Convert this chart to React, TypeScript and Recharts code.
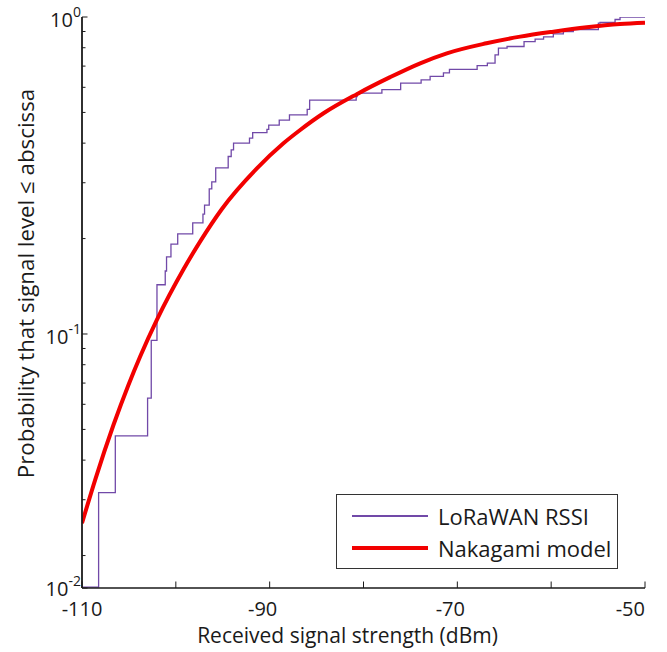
import React from "react";
import { LineChart, Line, XAxis, YAxis, Legend, Label } from "recharts";

// measured RSSI, empirical CDF (jump points)
const rssiDbm = [
  -110, -108.23, -106.45, -103.01, -102.62, -102.01, -101.13, -100.99, -100.52, -99.8,
  -98.2, -97.11, -96.94, -96.44, -96.17, -95.75, -94.42, -94.1, -93.85, -92.15,
  -91.81, -90.29, -90.1, -88.98, -87.89, -86.0, -85.74, -80.78, -80.68, -78.04,
  -76.04, -73.86, -72.9, -71.48, -70.84, -67.89, -66.8, -65.98, -65.62, -64.7,
  -62.89, -61.71, -60.81, -59.77, -58.7, -57.64, -54.97, -54.79, -53.19, -52.66, -50,
];
const rssiProb = [
  0.0159, 0.0316, 0.0477, 0.0628, 0.0954, 0.143, 0.158, 0.175, 0.192, 0.207,
  0.224, 0.239, 0.255, 0.287, 0.302, 0.334, 0.363, 0.381, 0.4, 0.415,
  0.432, 0.442, 0.456, 0.473, 0.491, 0.511, 0.547, 0.561, 0.575, 0.59,
  0.619, 0.633, 0.65, 0.666, 0.684, 0.702, 0.715, 0.759, 0.798, 0.807,
  0.836, 0.851, 0.865, 0.884, 0.899, 0.913, 0.957, 0.961, 0.982, 1.0, 1.0,
];

// fitted Nakagami CDF
const modelDbm = [
  -110, -108.58, -106.63, -105.04, -103.79, -102.01, -99.18, -97.4, -95.09, -91.36,
  -88.53, -86.75, -84.26, -80.71, -77.16, -73.96, -71.12, -66.9, -63.3, -59.77,
  -56.21, -52.66, -50,
];
const modelProb = [
  0.0253, 0.0348, 0.0518, 0.0692, 0.0851, 0.111, 0.16, 0.196, 0.248, 0.333,
  0.3996, 0.4401, 0.4969, 0.571, 0.646, 0.7144, 0.768, 0.826, 0.867, 0.899,
  0.928, 0.95, 0.959,
];

const xDomain = [-110, -50];
const xBottomTicks = [-110, -100, -90, -80, -70, -60, -50];
const xLabelled = [-110, -90, -70, -50];
const xTopTicks = [-109, -98.8, -88.6, -78.2, -68, -57.8];

const yDomain = [0.0158, 1];
const yMajorTicks = [0.0158, 0.1, 1];
const yExponents = ["-2", "-1", "0"];
const yMinorTicks = [0.02, 0.03, 0.04, 0.05, 0.06, 0.07, 0.08, 0.09, 0.2, 0.3, 0.4, 0.5, 0.6, 0.7, 0.8, 0.9];
const yTicks = [...yMajorTicks, ...yMinorTicks].sort((a, b) => a - b);

const rssiData = rssiDbm.map((x, i) => ({ x, p: rssiProb[i] }));
const modelData = modelDbm.map((x, i) => ({ x, p: modelProb[i] }));

const INK = "#1a1a1a";
const FONT = "'Open Sans', sans-serif";

const BottomTick = ({ x, y, payload }: any) => {
  const v = payload.value;
  const last = v === xDomain[1];
  const first = v === xDomain[0];
  return (
    <g>
      <line x1={x} x2={x} y1={y} y2={y - 6.5} stroke={INK} strokeWidth={1} />
      {xLabelled.includes(v) && (
        <text
          x={x}
          y={y + 28}
          dx={first || last ? 0 : -7}
          textAnchor={last ? "end" : "middle"}
          fontSize={20}
          fontFamily={FONT}
          fill={INK}
        >
          {v}
        </text>
      )}
    </g>
  );
};

const TopTick = ({ x, y }: any) => (
  <line x1={x} x2={x} y1={y} y2={y + 6.5} stroke={INK} strokeWidth={1} />
);

const LeftTick = ({ x, y, payload }: any) => {
  const idx = yMajorTicks.indexOf(payload.value);
  const major = idx >= 0;
  return (
    <g>
      <line x1={x} x2={x + (major ? 5.5 : 3.5)} y1={y} y2={y} stroke={INK} strokeWidth={1} />
      {major && (
        <text x={x - 1} y={y + (idx === 0 ? 8 : 10)} textAnchor="end" fontSize={20} fontFamily={FONT} fill={INK}>
          10
          <tspan dy={-10} fontSize={14}>
            {yExponents[idx]}
          </tspan>
        </text>
      )}
    </g>
  );
};

const RightTick = ({ x, y, payload }: any) => {
  const major = yMajorTicks.includes(payload.value);
  return <line x1={x} x2={x - (major ? 5.5 : 3.5)} y1={y} y2={y} stroke="#555" strokeWidth={1} />;
};

const seriesWidth: Record<string, number> = { "LoRaWAN RSSI": 1.5, "Nakagami model": 4 };

const LegendBox = ({ payload }: any) => (
  <div
    style={{
      boxSizing: "border-box",
      width: 282,
      height: 75,
      border: "1px solid #333",
      background: "#fff",
      paddingTop: 5,
      fontFamily: FONT,
    }}
  >
    {(payload || []).map((entry: any) => (
      <div key={entry.value} style={{ display: "flex", alignItems: "center", height: 32 }}>
        <div
          style={{
            marginLeft: 15,
            width: 76,
            height: seriesWidth[entry.value] || 2,
            background: entry.color,
          }}
        />
        <span style={{ marginLeft: 10, fontSize: 22, color: INK, lineHeight: "32px" }}>{entry.value}</span>
      </div>
    ))}
  </div>
);

const YTitle = ({ viewBox }: any) => {
  const cx = viewBox.x + 25;
  const cy = viewBox.y + viewBox.height / 2 - 19;
  return (
    <text
      x={cx}
      y={cy}
      transform={`rotate(-90, ${cx}, ${cy})`}
      textAnchor="middle"
      dominantBaseline="central"
      fontSize={22.3}
      fontFamily={FONT}
      fill={INK}
    >
      Probability that signal level ≤ abscissa
    </text>
  );
};

const XTitle = ({ viewBox }: any) => (
  <text
    x={viewBox.x + viewBox.width / 2 - 16}
    y={viewBox.y + viewBox.height - 9}
    textAnchor="middle"
    fontSize={21}
    fontFamily={FONT}
    fill={INK}
  >
    Received signal strength (dBm)
  </text>
);

export default function App() {
  return (
    <div style={{ position: "absolute", left: 0, top: 0, background: "#fff" }}>
      <LineChart
        width={667}
        height={652}
        margin={{ top: 17, right: 22, bottom: 0, left: 0 }}
        style={{ fontFamily: FONT }}
      >
        <XAxis
          xAxisId="bottom"
          orientation="bottom"
          type="number"
          dataKey="x"
          domain={xDomain}
          allowDataOverflow
          ticks={xBottomTicks}
          interval={0}
          height={64}
          tickSize={0}
          tickMargin={0}
          tickLine={false}
          axisLine={{ stroke: INK, strokeWidth: 1.5 }}
          tick={(p: any) => <BottomTick {...p} />}
        >
          <Label content={(p: any) => <XTitle {...p} />} />
        </XAxis>
        <XAxis
          xAxisId="top"
          orientation="top"
          type="number"
          dataKey="x"
          domain={xDomain}
          allowDataOverflow
          ticks={xTopTicks}
          interval={0}
          height={0}
          tickSize={0}
          tickMargin={0}
          tickLine={false}
          axisLine={{ stroke: INK, strokeWidth: 1.5 }}
          tick={(p: any) => <TopTick {...p} />}
        />
        <YAxis
          yAxisId="left"
          orientation="left"
          type="number"
          scale="log"
          domain={yDomain}
          allowDataOverflow
          ticks={yTicks}
          interval={0}
          width={82}
          tickSize={0}
          tickMargin={0}
          tickLine={false}
          axisLine={{ stroke: INK, strokeWidth: 1.8 }}
          tick={(p: any) => <LeftTick {...p} />}
        >
          <Label content={(p: any) => <YTitle {...p} />} />
        </YAxis>
        <YAxis
          yAxisId="right"
          orientation="right"
          type="number"
          scale="log"
          domain={yDomain}
          allowDataOverflow
          ticks={yTicks}
          interval={0}
          width={0}
          tickSize={0}
          tickMargin={0}
          tickLine={false}
          axisLine={{ stroke: "#555", strokeWidth: 2 }}
          tick={(p: any) => <RightTick {...p} />}
        />
        <Legend
          layout="vertical"
          align="center"
          verticalAlign="middle"
          content={(p: any) => <LegendBox {...p} />}
          wrapperStyle={{ left: 336, top: 494, width: 282, height: 75 }}
        />
        <Line
          xAxisId="bottom"
          yAxisId="left"
          data={rssiData}
          dataKey="p"
          name="LoRaWAN RSSI"
          type="stepAfter"
          stroke="#7149a8"
          strokeWidth={1.3}
          dot={false}
          activeDot={false}
          isAnimationActive={false}
        />
        <Line
          xAxisId="bottom"
          yAxisId="left"
          data={modelData}
          dataKey="p"
          name="Nakagami model"
          type="monotone"
          stroke="#f20000"
          strokeWidth={4}
          dot={false}
          activeDot={false}
          isAnimationActive={false}
        />
      </LineChart>
    </div>
  );
}
